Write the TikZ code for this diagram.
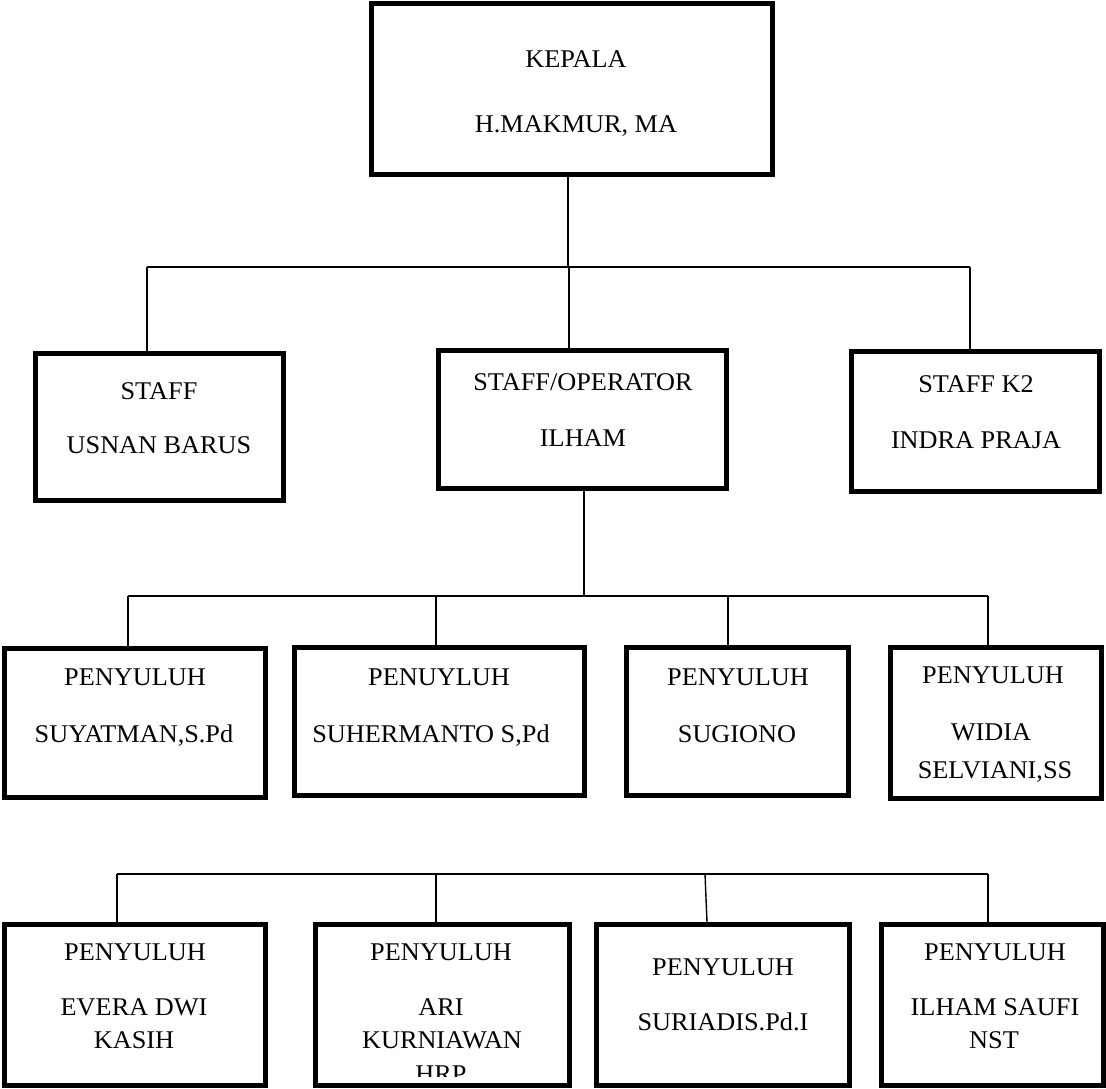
\documentclass[tikz,border=0pt]{standalone}
\usepackage{fontspec}
\setmainfont{Liberation Serif}[FakeStretch=1.03]
\begin{document}
\begin{tikzpicture}[x=1pt,y=-1pt,
  box/.style={draw=black,line width=5pt,rectangle,inner sep=0pt,fill=none},
  txt/.style={anchor=base,inner sep=0pt,font=\fontsize{25.5}{29}\selectfont},
  conn/.style={draw=black,line width=1.4pt}]
\useasboundingbox[fill=white] (0,0) rectangle (1106,1089);
% ---- junction coordinates
\coordinate (j0) at (568,267);
\coordinate (j0l) at (147,267);
\coordinate (j0r) at (970,267);
\coordinate (j0m) at (569,267);
\coordinate (j1) at (584,596);
\coordinate (j1a) at (128,596);
\coordinate (j1b) at (436,596);
\coordinate (j1c) at (728,596);
\coordinate (j1d) at (988,596);
\coordinate (j2a) at (117,874);
\coordinate (j2b) at (436,874);
\coordinate (j2c) at (705,874);
\coordinate (j2d) at (988,874);
% ---- boxes
\node[box,minimum width=401pt,minimum height=171pt] (top) at (571.5,89.5) {};
\node[box,minimum width=248pt,minimum height=147pt] (s1) at (159.5,427) {};
\node[box,minimum width=288pt,minimum height=138pt] (s2) at (582.5,419.5) {};
\node[box,minimum width=248pt,minimum height=140pt] (s3) at (975.5,421.5) {};
\node[box,minimum width=261pt,minimum height=149pt] (p1) at (135,723) {};
\node[box,minimum width=290pt,minimum height=148pt] (p2) at (439.5,721.5) {};
\node[box,minimum width=222pt,minimum height=148pt] (p3) at (737.5,721.5) {};
\node[box,minimum width=211pt,minimum height=151pt] (p4) at (996,723) {};
\node[box,minimum width=261pt,minimum height=161pt] (q1) at (135,1005) {};
\node[box,minimum width=254pt,minimum height=161pt] (q2) at (442.5,1005) {};
\node[box,minimum width=253pt,minimum height=161pt] (q3) at (723,1005) {};
\node[box,minimum width=222pt,minimum height=161pt] (q4) at (992.5,1005) {};
% ---- connectors
\draw[conn] (top.south -| j0) -- (j0);
\draw[conn] (j0l) -- (j0r);
\draw[conn] (j0l) -- (j0l |- s1.north);
\draw[conn] (j0m) -- (j0m |- s2.north);
\draw[conn] (j0r) -- (j0r |- s3.north);
\draw[conn] (s2.south -| j1) -- (j1);
\draw[conn] (j1a) -- (j1d);
\draw[conn] (j1a) -- (j1a |- p1.north);
\draw[conn] (j1b) -- (j1b |- p2.north);
\draw[conn] (j1c) -- (j1c |- p3.north);
\draw[conn] (j1d) -- (j1d |- p4.north);
\draw[conn] (j2a) -- (j2d);
\draw[conn] (j2a) -- (j2a |- q1.north);
\draw[conn] (j2b) -- (j2b |- q2.north);
\draw[conn] (j2c) -- (707,922);
\draw[conn] (j2d) -- (j2d |- q4.north);
% ---- texts
\node[txt] (t0a) at (576,67.5) {KEPALA};
\node[txt] (t0b) at (576,132.5) {H.MAKMUR, MA};
\node[txt] (t1a) at (159,399) {STAFF};
\node[txt] (t1b) at (159,453.5) {USNAN BARUS};
\node[txt] (t2a) at (583,390.5) {STAFF/OPERATOR};
\node[txt] (t2b) at (583,446) {ILHAM};
\node[txt] (t3a) at (976,392) {STAFF K2};
\node[txt] (t3b) at (976,448.5) {INDRA PRAJA};
\node[txt] (u1a) at (135,685.5) {PENYULUH};
\node[txt] (u1b) at (134,742.5) {SUYATMAN,S.Pd};
\node[txt] (u2a) at (439,685.5) {PENUYLUH};
\node[txt] (u2b) at (431,742.5) {SUHERMANTO S,Pd};
\node[txt] (u3a) at (738,685.5) {PENYULUH};
\node[txt] (u3b) at (737,742.5) {SUGIONO};
\node[txt] (u4a) at (993,683) {PENYULUH};
\node[txt] (u4b) at (991,740.5) {WIDIA};
\node[txt] (u4c) at (995,778.5) {SELVIANI,SS};
\node[txt] (v1a) at (135,960.5) {PENYULUH};
\node[txt] (v1b) at (134,1015.5) {EVERA DWI};
\node[txt] (v1c) at (134,1048.5) {KASIH};
\node[txt] (v2a) at (441,960.5) {PENYULUH};
\node[txt] (v2b) at (441,1015.5) {ARI};
\node[txt] (v2c) at (442,1048.5) {KURNIAWAN};
\begin{scope}
\clip (313,922) rectangle (572,1076);
\node[txt] (v2d) at (441,1082) {HRP};
\end{scope}
\node[txt] (v3a) at (723,975.5) {PENYULUH};
\node[txt] (v3b) at (723,1030.5) {SURIADIS.Pd.I};
\node[txt] (v4a) at (995,960.5) {PENYULUH};
\node[txt] (v4b) at (995,1015.5) {ILHAM SAUFI};
\node[txt] (v4c) at (994,1048.5) {NST};
\end{tikzpicture}
\end{document}
